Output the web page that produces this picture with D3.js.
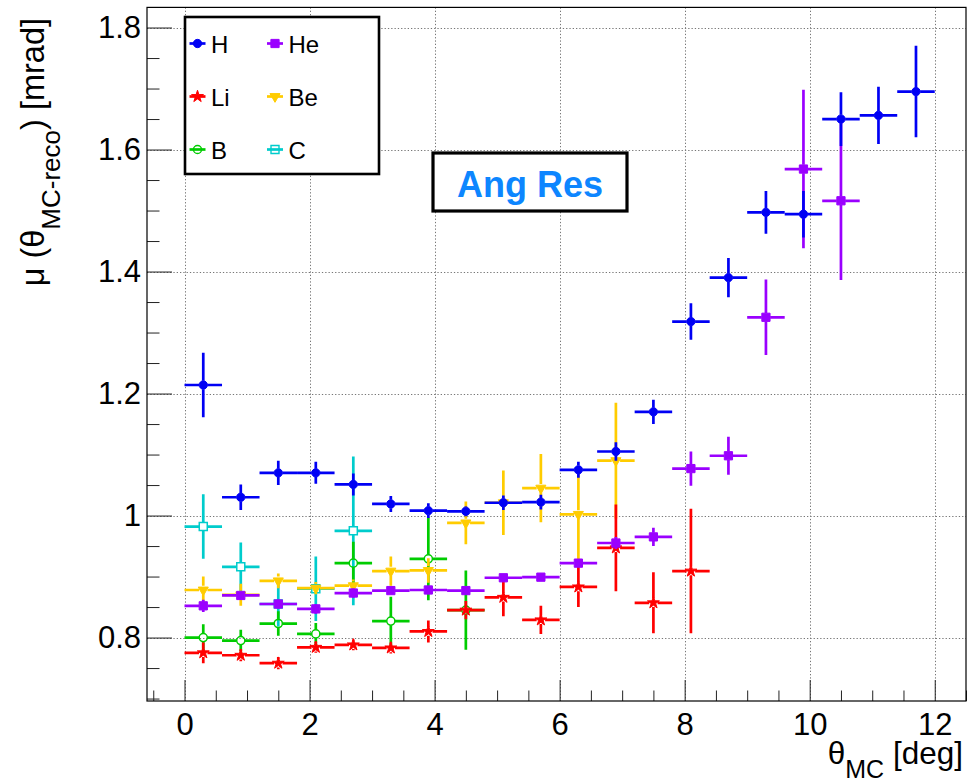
<!DOCTYPE html>
<html>
<head>
<meta charset="utf-8">
<script src="https://cdn.jsdelivr.net/npm/d3@7"></script>
<style>
  body { margin: 0; background: #fff; }
  svg text { font-family: "Liberation Sans", Arial, Helvetica, sans-serif; white-space: pre; }
</style>
</head>
<body>
<script>
// bin centres in theta_MC [deg], each bin is 0.6 wide
var binCenters = [0.3, 0.9, 1.5, 2.1, 2.7, 3.3, 3.9, 4.5, 5.1, 5.7, 6.3, 6.9, 7.5, 8.1, 8.7, 9.3, 9.9, 10.5, 11.1, 11.7];
var binHalfWidth = 0.3;

var hVals = [1.214, 1.030, 1.070, 1.070, 1.051, 1.019, 1.008, 1.007, 1.021, 1.022, 1.075, 1.105, 1.170, 1.318, 1.390, 1.497, 1.494, 1.650, 1.656, 1.695];
var hErrs = [0.053, 0.021, 0.020, 0.018, 0.018, 0.013, 0.012, 0.008, 0.012, 0.012, 0.013, 0.015, 0.020, 0.030, 0.032, 0.035, 0.038, 0.044, 0.047, 0.075];

var heVals = [0.852, 0.869, 0.855, 0.847, 0.873, 0.877, 0.878, 0.877, 0.898, 0.899, 0.922, 0.955, 0.965, 1.077, 1.098, 1.325, 1.568, 1.516];
var heErrs = [0.010, 0.005, 0.008, 0.008, 0.008, 0.005, 0.005, 0.006, 0.004, 0.004, 0.006, 0.010, 0.015, 0.028, 0.031, 0.062, 0.130, 0.130];

var liVals = [0.775, 0.771, 0.758, 0.784, 0.788, 0.783, 0.810, 0.845, 0.866, 0.829, 0.883, 0.947, 0.857, 0.909];
var liErrs = [0.017, 0.010, 0.010, 0.009, 0.009, 0.009, 0.018, 0.015, 0.031, 0.023, 0.033, 0.071, 0.050, 0.102];

var beVals = [0.878, 0.870, 0.893, 0.881, 0.885, 0.909, 0.910, 0.988, 1.021, 1.045, 1.002, 1.090];
var beErrs = [0.022, 0.018, 0.012, 0.010, 0.010, 0.024, 0.020, 0.035, 0.053, 0.056, 0.075, 0.095];

var bVals = [0.800, 0.795, 0.823, 0.806, 0.922, 0.827, 0.929, 0.845];
var bErrs = [0.022, 0.018, 0.020, 0.018, 0.035, 0.040, 0.068, 0.065];

var cVals = [0.982, 0.916, 0.855, 0.880, 0.975];
var cErrs = [0.053, 0.040, 0.037, 0.053, 0.122];

var xTickValues = [0, 2, 4, 6, 8, 10, 12];
var yTickValues = [0.8, 1, 1.2, 1.4, 1.6, 1.8];
var yTickLabels = ["0.8", "1", "1.2", "1.4", "1.6", "1.8"];

var legendNames = ["H", "He", "Li", "Be", "B", "C"];

var width = 972, height = 782;
var padL = 147, padR = 966, padT = 7.4, padB = 701;

var x = d3.scaleLinear().domain([-0.6, 12.5]).range([padL, padR]);
var y = d3.scaleLinear().domain([0.696, 1.833]).range([padB, padT]);

var svg = d3.select("body").append("svg")
  .attr("width", width)
  .attr("height", height);

// series, in drawing order (last one on top)
var series = [
  { name: "C",  vals: cVals,  errs: cErrs,  color: "#00cccc", shape: d3.symbolSquare,   size: 64, open: true },
  { name: "B",  vals: bVals,  errs: bErrs,  color: "#00cc00", shape: d3.symbolCircle,   size: 52, open: true },
  { name: "Be", vals: beVals, errs: beErrs, color: "#ffcc00", shape: d3.symbolTriangle, size: 44, rot: 180 },
  { name: "Li", vals: liVals, errs: liErrs, color: "#ff0000", shape: d3.symbolStar,     size: 44 },
  { name: "He", vals: heVals, errs: heErrs, color: "#9a00ff", shape: d3.symbolSquare,   size: 68 },
  { name: "H",  vals: hVals,  errs: hErrs,  color: "#0000f4", shape: d3.symbolCircle,   size: 54 }
];

// grid
var grid = svg.append("g").attr("stroke", "#777").attr("stroke-width", 1).attr("stroke-dasharray", "1.3 2");
grid.selectAll(".gx").data(xTickValues).enter().append("line")
  .attr("x1", d => Math.round(x(d)) + 0.5).attr("x2", d => Math.round(x(d)) + 0.5)
  .attr("y1", padT).attr("y2", padB);
grid.selectAll(".gy").data(yTickValues).enter().append("line")
  .attr("y1", d => Math.round(y(d)) + 0.5).attr("y2", d => Math.round(y(d)) + 0.5)
  .attr("x1", padL).attr("x2", padR);

// axes
var xMinor = d3.range(-0.5, 12.51, 0.5).filter(d => d % 2 !== 0);
var yMinor = d3.range(0.70, 1.831, 0.05).filter(d => Math.abs(d * 5 - Math.round(d * 5)) > 0.01);

svg.append("g").attr("transform", "translate(0," + padB + ")")
  .call(d3.axisBottom(x).tickValues(xTickValues).tickSizeInner(-21).tickSizeOuter(0).tickPadding(12).tickFormat(d3.format("d")));
svg.append("g").attr("transform", "translate(0," + padB + ")")
  .call(d3.axisBottom(x).tickValues(xMinor).tickSizeInner(-10.5).tickSizeOuter(0).tickFormat(""));

svg.append("g").attr("transform", "translate(" + padL + ",0)")
  .call(d3.axisLeft(y).tickValues(yTickValues).tickSizeInner(-25).tickSizeOuter(0).tickPadding(6)
    .tickFormat((d, i) => yTickLabels[i]));
svg.append("g").attr("transform", "translate(" + padL + ",0)")
  .call(d3.axisLeft(y).tickValues(yMinor).tickSizeInner(-12.5).tickSizeOuter(0).tickFormat(""));

svg.selectAll(".tick text").attr("font-size", 31).attr("fill", "#000");
svg.selectAll(".tick line").attr("stroke", "#222");
svg.selectAll(".domain").remove();

// frame
svg.append("rect")
  .attr("x", padL).attr("y", padT).attr("width", padR - padL).attr("height", padB - padT)
  .attr("fill", "none").attr("stroke", "#000").attr("stroke-width", 1.2);

// data
series.forEach(function(s) {
  var pts = s.vals.map((v, i) => ({ c: binCenters[i], v: v, e: s.errs[i] }));
  var g = svg.append("g");
  var gap = 4.2;
  g.selectAll(".hx").data(pts).enter().append("path")
    .attr("d", d => {
      var cx = x(d.c), cy = y(d.v);
      return "M" + x(d.c - binHalfWidth) + "," + cy + "H" + (cx - gap) +
             "M" + (cx + gap) + "," + cy + "H" + x(d.c + binHalfWidth);
    })
    .attr("stroke", s.color).attr("stroke-width", 2.7).attr("fill", "none");
  g.selectAll(".vy").data(pts).enter().append("path")
    .attr("d", d => {
      var cx = x(d.c), cy = y(d.v);
      var y1 = y(d.v + d.e), y2 = y(d.v - d.e);
      var p = "";
      if (cy - gap > y1) p += "M" + cx + "," + y1 + "V" + (cy - gap);
      if (cy + gap < y2) p += "M" + cx + "," + (cy + gap) + "V" + y2;
      return p;
    })
    .attr("stroke", s.color).attr("stroke-width", 2.7).attr("fill", "none");
  g.selectAll(".mk").data(pts).enter().append("path")
    .attr("transform", d => "translate(" + x(d.c) + "," + y(d.v) + ")" + (s.rot ? " rotate(" + s.rot + ")" : ""))
    .attr("d", d3.symbol().type(s.shape).size(s.size))
    .attr("fill", s.open ? "none" : s.color)
    .attr("stroke", s.color)
    .attr("stroke-width", s.open ? 1.5 : 1);
});

// legend
var lg = svg.append("g");
lg.append("rect").attr("x", 185).attr("y", 17).attr("width", 194).attr("height", 157)
  .attr("fill", "#fff").attr("stroke", "#000").attr("stroke-width", 2.6);
legendNames.forEach(function(name, i) {
  var s = series.find(d => d.name === name);
  var col = i % 2, row = Math.floor(i / 2);
  var mx = col === 0 ? 197.5 : 275, my = 43.5 + row * 53;
  lg.append("line").attr("x1", mx - 8).attr("x2", mx + 8).attr("y1", my).attr("y2", my)
    .attr("stroke", s.color).attr("stroke-width", 2.7);
  lg.append("path")
    .attr("transform", "translate(" + mx + "," + my + ")" + (s.rot ? " rotate(" + s.rot + ")" : ""))
    .attr("d", d3.symbol().type(s.shape).size(s.size))
    .attr("fill", s.open ? "none" : s.color)
    .attr("stroke", s.color).attr("stroke-width", s.open ? 1.4 : 1);
  lg.append("text").attr("x", mx + 13.5).attr("y", my + 9).attr("font-size", 24).attr("fill", "#000").text(name);
});

// label box
svg.append("rect").attr("x", 433).attr("y", 153).attr("width", 194).attr("height", 58)
  .attr("fill", "#fff").attr("stroke", "#000").attr("stroke-width", 3.2);
svg.append("text").attr("x", 530).attr("y", 197).attr("text-anchor", "middle")
  .attr("font-size", 36).attr("font-weight", "bold").attr("fill", "#0d86ff").text("Ang Res");

// axis titles
var xt = svg.append("text").attr("x", 963).attr("y", 764).attr("text-anchor", "end").attr("font-size", 31.5).attr("fill", "#000");
xt.append("tspan").text("θ");
xt.append("tspan").attr("dy", 14).attr("font-size", 25).text("MC");
xt.append("tspan").attr("dy", -14).text(" [deg]");

var yt = svg.append("text").attr("transform", "translate(44,18) rotate(-90)").attr("text-anchor", "end")
  .attr("font-size", 32.5).attr("fill", "#000");
yt.append("tspan").text("μ (θ");
yt.append("tspan").attr("dy", 16).attr("font-size", 26).text("MC-reco");
yt.append("tspan").attr("dy", -16).text(") [mrad]");
</script>
</body>
</html>
